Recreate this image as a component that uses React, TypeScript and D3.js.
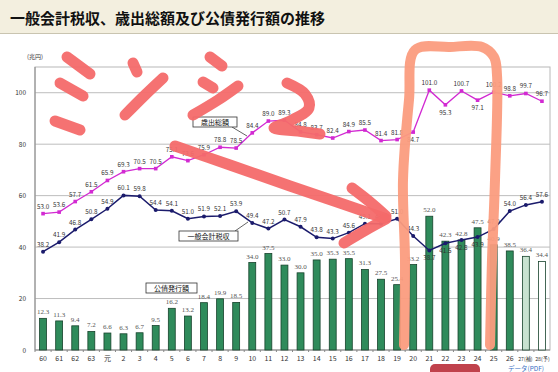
import React, { useEffect, useRef } from "react";
import * as d3 from "d3";

const years = ["60","61","62","63","元","2","3","4","5","6","7","8","9","10","11","12","13","14","15","16","17","18","19","20","21","22","23","24","25","26","27(補)","28(予)"];
const bonds = [12.3,11.3,9.4,7.2,6.6,6.3,6.7,9.5,16.2,13.2,18.4,19.9,18.5,34.0,37.5,33.0,30.0,35.0,35.3,35.5,31.3,27.5,25.4,33.2,52.0,42.3,42.8,47.5,40.9,38.5,36.4,34.4];
const taxes = [38.2,41.9,46.8,50.8,54.9,60.1,59.8,54.4,54.1,51.0,51.9,52.1,53.9,49.4,47.2,50.7,47.9,43.8,43.3,45.6,49.1,49.1,51.0,44.3,38.7,41.5,42.8,43.9,47.0,54.0,56.4,57.6];
const spending = [53.0,53.6,57.7,61.5,65.9,69.3,70.5,70.5,75.1,73.6,75.9,78.8,78.5,84.4,89.0,89.3,84.8,83.7,82.4,84.9,85.5,81.4,81.8,84.7,101.0,95.3,100.7,97.1,100.2,98.8,99.7,96.7];
const yTicks = [0, 20, 40, 60, 80, 100];
const spendLabelBelow = ["20", "22", "24"];
const taxLabelBelow = ["21", "22", "23", "24"];

// hand-drawn annotations laid over the chart
const pinkStrokes: [number, number][][] = [
  [[67,57],[90,74]],
  [[60,83],[83,96]],
  [[55,121],[80,130]],
  [[133,63],[137,72]],
  [[125,115],[145,95],[163,78]],
  [[210,57],[222,66]],
  [[203,82],[213,88]],
  [[193,115],[218,100],[238,86]],
  [[287,83],[305,94],[309,108],[290,121],[274,128],[298,131],[320,134]],
  [[175,146],[230,165],[290,186],[340,203],[384,218]],
  [[352,188],[370,202],[386,216]],
  [[344,243],[366,230],[386,219]],
];
const orangeStroke: [number, number][] = [
  [404,345],[405,260],[403,180],[409,100],[415,50],[450,47],[482,47],[494,57],[497,75],[495,180],[492,260],[490,345],
];

const W = 558;
const H = 372;
const left = 35;
const right = 550;
const top = 67;
const bottom = 350;

export default function App() {
  const ref = useRef<SVGSVGElement>(null);

  useEffect(() => {
    const svg = d3.select(ref.current);
    svg.selectAll("*").remove();

    const x = d3.scaleBand().domain(years).range([left, right]);
    const y = d3.scaleLinear().domain([0, 110]).range([bottom, top]);
    const step = x.step();
    const cx = (d: string) => (x(d) as number) + step / 2;
    const bw = step * 0.43;

    // title band
    svg.append("rect").attr("x", 0).attr("y", 0).attr("width", W).attr("height", 33).attr("fill", "#f3efdf");
    svg.append("line").attr("x1", 0).attr("x2", W).attr("y1", 33.5).attr("y2", 33.5).attr("stroke", "#c9c4b0");
    svg.append("text").attr("x", 10).attr("y", 24)
      .attr("font-family", "'Noto Sans CJK JP', sans-serif").attr("font-weight", "bold")
      .attr("font-size", 15).attr("fill", "#111")
      .text("一般会計税収、歳出総額及び公債発行額の推移");

    // frame + grid
    svg.append("rect").attr("x", left).attr("y", top).attr("width", right - left).attr("height", bottom - top)
      .attr("fill", "none").attr("stroke", "#b8b8b8");
    svg.append("g").selectAll("line").data(yTicks.filter((t) => t > 0)).join("line")
      .attr("x1", left).attr("x2", right).attr("y1", (d) => y(d)).attr("y2", (d) => y(d))
      .attr("stroke", "#bdbdbd");
    svg.append("line").attr("x1", left).attr("x2", left).attr("y1", top).attr("y2", bottom).attr("stroke", "#888");
    svg.append("line").attr("x1", left).attr("x2", right).attr("y1", bottom).attr("y2", bottom).attr("stroke", "#888");
    svg.append("g").selectAll("line").data(years).join("line")
      .attr("x1", (d) => x(d) as number).attr("x2", (d) => x(d) as number)
      .attr("y1", bottom).attr("y2", bottom + 2).attr("stroke", "#888");

    const sans = "'Noto Sans CJK JP', sans-serif";
    svg.append("g").selectAll("text").data(yTicks).join("text")
      .attr("x", 26).attr("y", (d) => y(d) + 2.5).attr("text-anchor", "end")
      .attr("font-family", sans).attr("font-size", 6.5).attr("fill", "#333").text((d) => d);
    svg.append("text").attr("x", 27).attr("y", 59).attr("font-family", sans).attr("font-size", 6)
      .attr("fill", "#333").text("(兆円)");

    svg.append("g").selectAll("text").data(years).join("text")
      .attr("x", (d, i) => cx(d) + (i === years.length - 2 ? -0.5 : i === years.length - 1 ? 0.5 : 0))
      .attr("y", 361).attr("text-anchor", "middle")
      .attr("font-family", sans).attr("font-size", (d) => (d.length > 3 ? 5.2 : 7)).attr("fill", "#333")
      .text((d) => d);

    // bars
    svg.append("g").selectAll("rect").data(bonds).join("rect")
      .attr("x", (d, i) => cx(years[i]) - bw / 2).attr("width", bw)
      .attr("y", (d) => y(d)).attr("height", (d) => bottom - y(d))
      .attr("fill", (d, i) => (i === years.length - 2 ? "#c8e2d0" : i === years.length - 1 ? "#ffffff" : "#2f8b5b"))
      .attr("stroke", "#17432c").attr("stroke-width", 0.8);
    svg.append("g").selectAll("text").data(bonds).join("text")
      .attr("x", (d, i) => cx(years[i])).attr("y", (d) => y(d) - 4).attr("text-anchor", "middle")
      .attr("font-family", "'Liberation Serif', serif").attr("font-size", 7).attr("fill", "#555")
      .text((d) => d.toFixed(1));

    // lines
    const line = d3.line<number>().x((d, i) => cx(years[i])).y((d) => y(d));
    svg.append("path").datum(spending).attr("d", line).attr("fill", "none")
      .attr("stroke", "#d22ad2").attr("stroke-width", 1.3);
    svg.append("g").selectAll("rect").data(spending).join("rect")
      .attr("x", (d, i) => cx(years[i]) - 1.8).attr("y", (d) => y(d) - 1.8)
      .attr("width", 3.6).attr("height", 3.6).attr("fill", "#d22ad2");
    svg.append("path").datum(taxes).attr("d", line).attr("fill", "none")
      .attr("stroke", "#1b1b6c").attr("stroke-width", 1.5);
    svg.append("g").selectAll("circle").data(taxes).join("circle")
      .attr("cx", (d, i) => cx(years[i])).attr("cy", (d) => y(d)).attr("r", 2).attr("fill", "#1b1b6c");

    svg.append("g").selectAll("text").data(spending).join("text")
      .attr("x", (d, i) => cx(years[i])).attr("y", (d, i) => (spendLabelBelow.includes(years[i]) ? y(d) + 10 : y(d) - 5))
      .attr("text-anchor", "middle").attr("font-family", sans).attr("font-size", 6.3).attr("fill", "#333")
      .text((d) => d.toFixed(1));
    svg.append("g").selectAll("text").data(taxes).join("text")
      .attr("x", (d, i) => cx(years[i])).attr("y", (d, i) => (taxLabelBelow.includes(years[i]) ? y(d) + 10 : y(d) - 5))
      .attr("text-anchor", "middle").attr("font-family", sans).attr("font-size", 6.3).attr("fill", "#333")
      .text((d) => d.toFixed(1));

    // legend callouts
    const callout = (bx: number, by: number, w: number, label: string, px?: number, py?: number, qx?: number, qy?: number) => {
      if (px !== undefined) {
        svg.append("line").attr("x1", px).attr("y1", py!).attr("x2", qx!).attr("y2", qy!).attr("stroke", "#222").attr("stroke-width", 0.7);
      }
      svg.append("rect").attr("x", bx).attr("y", by).attr("width", w).attr("height", 10)
        .attr("fill", "#fff").attr("stroke", "#333").attr("stroke-width", 0.8);
      svg.append("text").attr("x", bx + w / 2).attr("y", by + 7.5).attr("text-anchor", "middle")
        .attr("font-family", sans).attr("font-size", 7).attr("fill", "#111").text(label);
    };
    callout(193, 117, 44, "歳出総額", 232, 127, 247, 136);
    callout(179, 231, 59, "一般会計税収", 235, 231, 248, 222);
    callout(146, 283, 51, "公債発行額");

    // footer bits
    svg.append("rect").attr("x", 430).attr("y", 364).attr("width", 50).attr("height", 14).attr("rx", 5)
      .attr("fill", "#c0424c");
    svg.append("text").attr("x", 508).attr("y", 370.5).attr("font-family", sans).attr("font-size", 6.5)
      .attr("fill", "#3a6fc4").text("データ(PDF)");

    // annotations
    const pen = d3.line<[number, number]>().curve(d3.curveCatmullRom);
    svg.append("path").attr("d", pen(orangeStroke)).attr("fill", "none").attr("stroke", "#fb9c7e")
      .attr("stroke-width", 10).attr("stroke-linecap", "round").attr("stroke-linejoin", "round").attr("opacity", 0.95);
    svg.append("g").selectAll("path").data(pinkStrokes).join("path")
      .attr("d", (d) => pen(d)).attr("fill", "none").attr("stroke", "#f46a6a")
      .attr("stroke-width", 11).attr("stroke-linecap", "round").attr("stroke-linejoin", "round").attr("opacity", 0.95);
  }, []);

  return (
    <div style={{ position: "fixed", left: 0, top: 0, width: W, height: H, background: "#fff", overflow: "hidden" }}>
      <svg ref={ref} width={W} height={H} viewBox={`0 0 ${W} ${H}`} />
    </div>
  );
}
